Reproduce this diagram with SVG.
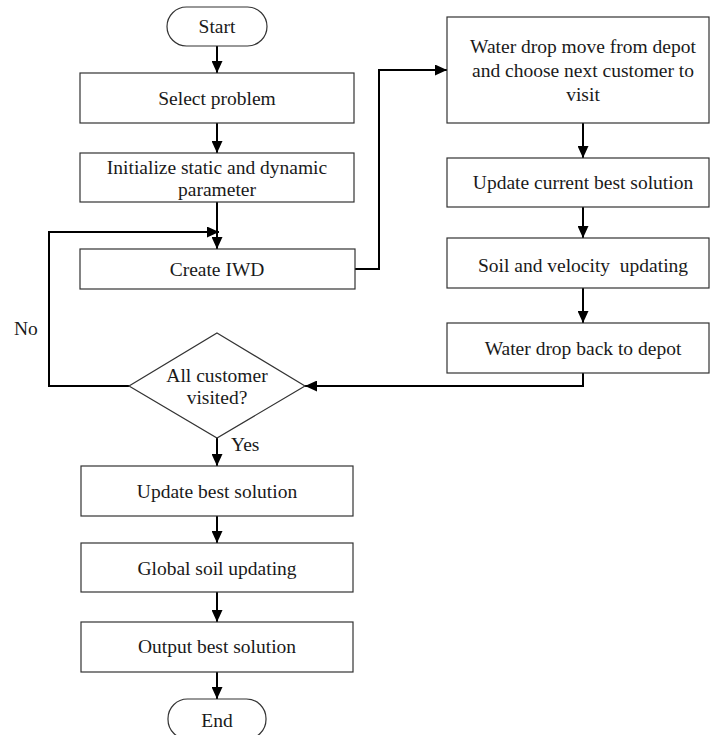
<svg xmlns="http://www.w3.org/2000/svg" width="710" height="735" viewBox="0 0 710 735">
<style>
.box{fill:#fff;stroke:#333;stroke-width:1.2}
.c{fill:none;stroke:#000;stroke-width:2}
</style>
<defs>
<marker id="ah" markerWidth="12" markerHeight="11" refX="12" refY="5.5" orient="auto" markerUnits="userSpaceOnUse">
<path d="M0,0 L12,5.5 L0,11 Z" fill="#000"/>
</marker>
</defs>
<rect width="710" height="735" fill="#fff"/>
<g id="connectors">
<line class="c" x1="217" y1="46" x2="217" y2="73" marker-end="url(#ah)"/>
<line class="c" x1="217" y1="123" x2="217" y2="153" marker-end="url(#ah)"/>
<line class="c" x1="217" y1="202" x2="217" y2="249" marker-end="url(#ah)"/>
<polyline class="c" points="355,269 379,269 379,70 447,70" marker-end="url(#ah)"/>
<line class="c" x1="583" y1="123" x2="583" y2="158" marker-end="url(#ah)"/>
<line class="c" x1="583" y1="207" x2="583" y2="238" marker-end="url(#ah)"/>
<line class="c" x1="583" y1="288" x2="583" y2="323" marker-end="url(#ah)"/>
<polyline class="c" points="583,373 583,386 305,386" marker-end="url(#ah)"/>
<polyline class="c" points="129,386 49,386 49,232 219,232" marker-end="url(#ah)"/>
<line class="c" x1="217" y1="438" x2="217" y2="466" marker-end="url(#ah)"/>
<line class="c" x1="217" y1="516" x2="217" y2="543" marker-end="url(#ah)"/>
<line class="c" x1="217" y1="592" x2="217" y2="622" marker-end="url(#ah)"/>
<line class="c" x1="217" y1="672" x2="217" y2="699" marker-end="url(#ah)"/>
</g>
<g font-family="'Liberation Serif', 'Times New Roman', Times, 'Nimbus Roman', 'FreeSerif', 'Noto Serif', 'DejaVu Serif', serif" font-size="19.5" fill="#1a1a1a" text-anchor="middle">
<g id="start"><rect class="box" x="167" y="7" width="100" height="39" rx="19.5"/><text x="217" y="33">Start</text></g>
<g id="select"><rect class="box" x="80" y="73" width="274" height="50"/><text x="217" y="105">Select problem</text></g>
<g id="init"><rect class="box" x="80" y="153" width="274" height="49"/><text x="217" y="174">Initialize static and dynamic</text><text x="217" y="196">parameter</text></g>
<g id="create"><rect class="box" x="80" y="249" width="275" height="40"/><text x="217" y="276">Create IWD</text></g>
<g id="move"><rect class="box" x="447" y="17" width="262" height="106"/><text x="583" y="53">Water drop move from depot</text><text x="583" y="77">and choose next customer to</text><text x="583" y="101">visit</text></g>
<g id="updcur"><rect class="box" x="447" y="158" width="262" height="49"/><text x="583" y="189">Update current best solution</text></g>
<g id="soil"><rect class="box" x="447" y="238" width="262" height="50"/><text x="583" y="272" xml:space="preserve">Soil and velocity  updating</text></g>
<g id="back"><rect class="box" x="447" y="323" width="262" height="50"/><text x="583" y="355">Water drop back to depot</text></g>
<g id="decision"><polygon class="box" points="217,333 305,386 217,438 129,386"/><text x="217" y="382">All customer</text><text x="217" y="404">visited?</text></g>
<g id="updbest"><rect class="box" x="81" y="466" width="272" height="50"/><text x="217" y="498">Update best solution</text></g>
<g id="global"><rect class="box" x="81" y="543" width="272" height="49"/><text x="217" y="575">Global soil updating</text></g>
<g id="output"><rect class="box" x="81" y="622" width="272" height="50"/><text x="217" y="653">Output best solution</text></g>
<g id="end"><rect class="box" x="168" y="699" width="98" height="40" rx="19.5"/><text x="217" y="727">End</text></g>
<g id="labels" text-anchor="start"><text x="14" y="335">No</text><text x="231" y="451">Yes</text></g>
</g>
</svg>
